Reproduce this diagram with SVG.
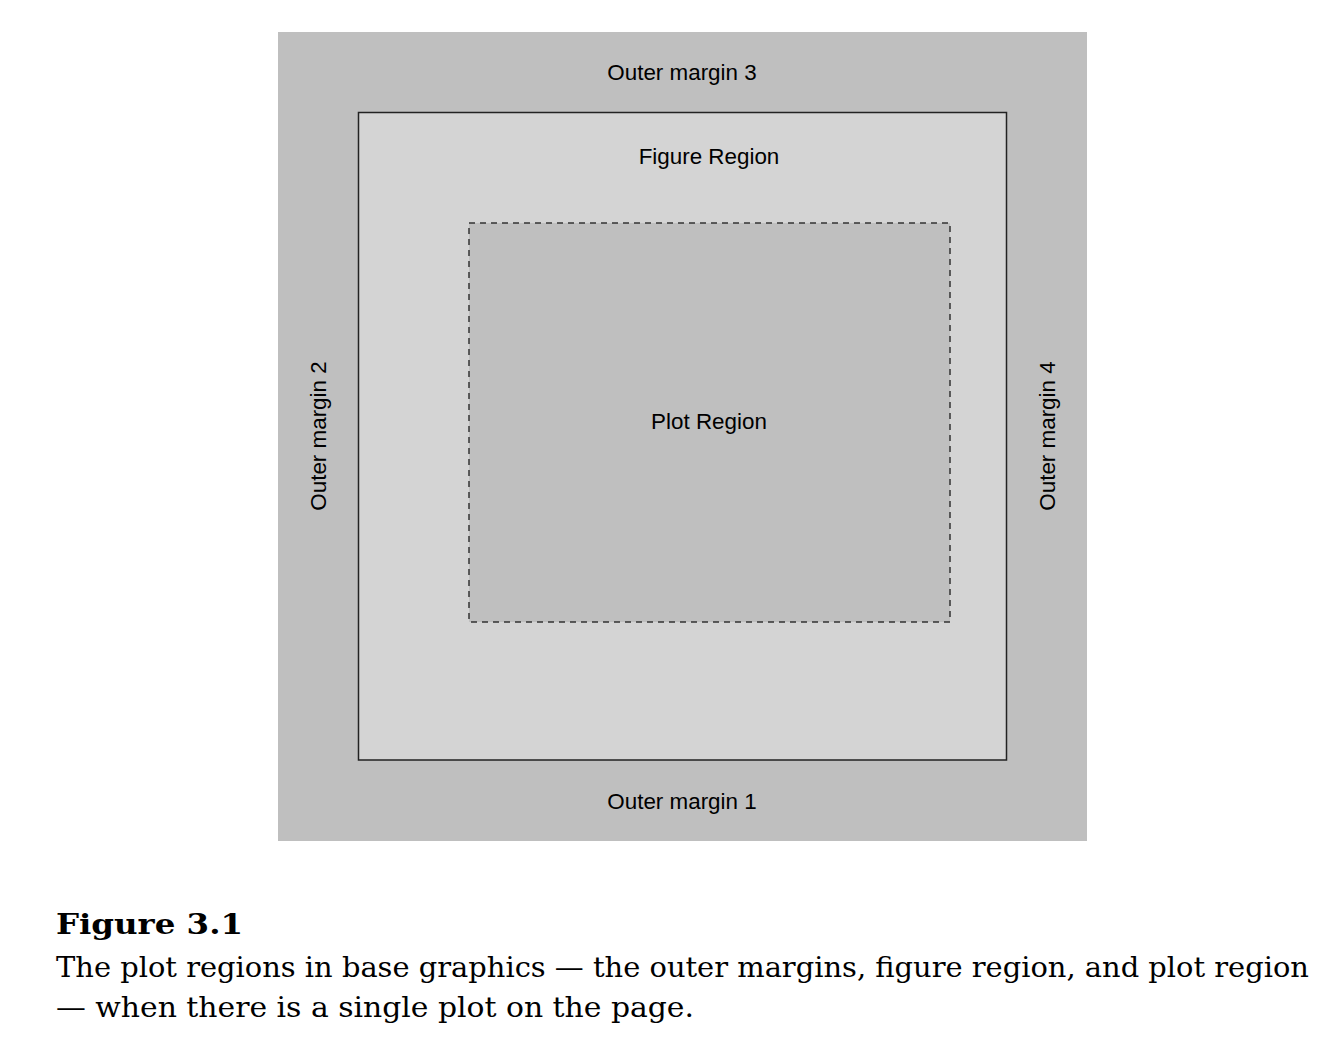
<svg xmlns="http://www.w3.org/2000/svg" width="1330" height="1062" viewBox="0 0 1330 1062">
<style>
.lbl{font-family:"Liberation Sans",Arial,sans-serif;font-size:22.4px;fill:#000;text-anchor:middle}
.cap{font-family:"DejaVu Serif","Liberation Serif",serif;font-size:28px;fill:#000}
</style>
<rect width="1330" height="1062" fill="#fff"/>
<g id="outer">
<rect x="278" y="32" width="809" height="809" fill="#bfbfbf"/>
<text class="lbl" x="682" y="80">Outer margin 3</text>
<text class="lbl" x="682" y="809">Outer margin 1</text>
<text class="lbl" transform="translate(326,436) rotate(-90)">Outer margin 2</text>
<text class="lbl" transform="translate(1055,436) rotate(-90)">Outer margin 4</text>
</g>
<g id="figure">
<rect x="358.5" y="112.5" width="648" height="647.5" fill="#d4d4d4" stroke="#222" stroke-width="1.5"/>
<text class="lbl" x="709" y="164">Figure Region</text>
</g>
<g id="plot">
<rect x="469" y="223" width="481" height="399" fill="#bfbfbf" stroke="#333" stroke-width="1.5" stroke-dasharray="6 5"/>
<text class="lbl" x="709" y="429">Plot Region</text>
</g>
<g id="caption">
<text class="cap" x="56" y="934" font-weight="bold" font-size="31" textLength="187" lengthAdjust="spacingAndGlyphs">Figure 3.1</text>
<text class="cap" x="56" y="977" textLength="1253" lengthAdjust="spacingAndGlyphs">The plot regions in base graphics — the outer margins, figure region, and plot region</text>
<text class="cap" x="56" y="1017" textLength="638" lengthAdjust="spacingAndGlyphs">— when there is a single plot on the page.</text>
</g>
</svg>
